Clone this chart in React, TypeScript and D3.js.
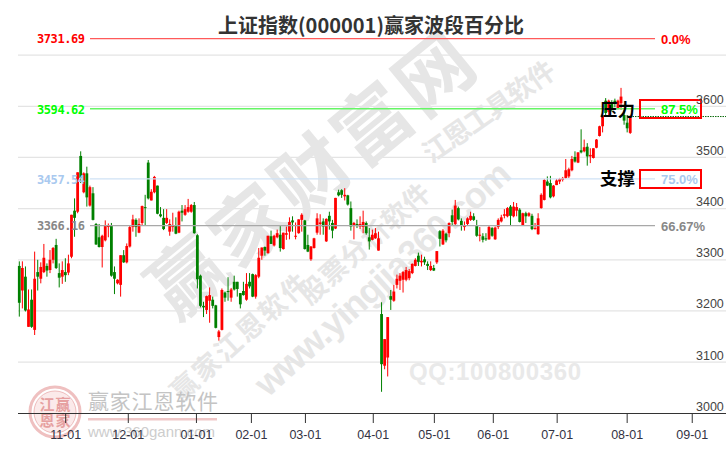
import React from "react";
import * as d3 from "d3";

const title = "上证指数(000001)赢家波段百分比";
// [open, close, high, low] split in named arrays, one value per trading day
const opens = [3288,3240,3267,3169,3222,3163,3276,3263,3276,3288,3280,3300,3329,3274,3267,3276,3275,3306,3396,3394,3503,3432,3469,3406,3430,
3370,3344,3325,3338,3364,3366,3276,3254,3251,3309,3295,3326,3364,3378,3353,3372,3403,3490,3416,3432,3445,3389,3382,3372,
3355,3364,3368,3353,3396,3388,3394,3394,3407,3348,3269,3210,3202,3220,3222,3211,3149,3163,3236,3239,3226,3257,3257,3235,3239,
3222,3257,3272,3228,3267,3308,3325,3313,3346,3328,3344,3349,3321,3349,3355,3377,3346,3352,3378,3377,3329,3301,3323,3353,
3370,3375,3336,3386,3372,3361,3432,3436,3424,3426,3401,3366,3370,3365,3364,3372,3344,3339,3342,3318,3194,3093,3109,3229,3220,
3251,3259,3261,3261,3264,3274,3288,3308,3295,3301,3292,3280,3284,3295,3356,3330,3351,3352,3387,3370,3401,3376,3364,3370,
3378,3385,3368,3347,3346,3342,3340,3362,3340,3364,3375,3386,3385,3404,3385,3396,3398,3368,3391,3386,3386,3360,3350,
3401,3417,3453,3450,3424,3446,3453,3456,3460,3463,3475,3501,3490,3514,3512,3521,3502,3499,3519,3542,3561,3611,3589,3606,3611,3596,3606,3583,3568,3548];
const closes = [3216,3284,3201,3203,3169,3263,3267,3286,3304,3279,3300,3323,3284,3265,3280,3270,3293,3388,3382,3471,3460,3469,3422,3442,3378,
3330,3325,3347,3368,3368,3269,3263,3261,3309,3295,3327,3364,3379,3364,3370,3405,3401,3420,3433,3462,3390,3385,3360,3382,
3370,3366,3351,3394,3392,3399,3403,3407,3352,3262,3210,3207,3229,3231,3210,3167,3160,3241,3226,3237,3242,3242,3243,3213,3231,
3253,3248,3228,3270,3304,3324,3318,3347,3331,3347,3352,3323,3353,3352,3374,3373,3347,3379,3388,3321,3316,3326,3342,3381,
3373,3365,3380,3375,3357,3421,3426,3427,3427,3408,3365,3372,3368,3370,3374,3352,3336,3349,3352,3342,3096,3145,3188,3222,3238,
3263,3269,3276,3280,3278,3292,3300,3296,3298,3295,3288,3288,3279,3317,3341,3357,3338,3372,3374,3406,3379,3368,3366,3381,
3386,3378,3347,3349,3339,3340,3364,3347,3363,3378,3383,3389,3401,3386,3404,3403,3374,3391,3385,3391,3360,3362,3381,
3427,3456,3445,3422,3445,3455,3458,3460,3475,3477,3497,3492,3510,3510,3520,3502,3505,3518,3535,3561,3581,3587,3611,3596,3606,3611,3619,3572,3557,3580];
const highs = [3297,3297,3287,3242,3242,3316,3300,3295,3331,3293,3319,3325,3341,3293,3297,3303,3310,3388,3420,3471,3512,3471,3482,3445,3442,
3372,3370,3349,3377,3371,3372,3287,3262,3309,3319,3332,3368,3388,3381,3381,3406,3427,3495,3438,3464,3445,3403,3399,3399,
3379,3392,3383,3396,3407,3407,3419,3409,3413,3350,3271,3218,3230,3246,3228,3212,3163,3244,3238,3266,3245,3269,3257,3235,3257,
3274,3274,3273,3272,3323,3324,3326,3347,3357,3349,3359,3366,3353,3365,3383,3385,3373,3379,3391,3378,3349,3327,3343,3391,
3389,3381,3381,3394,3378,3421,3437,3438,3440,3427,3414,3374,3379,3385,3396,3375,3362,3359,3362,3355,3217,3145,3188,3241,3251,
3271,3274,3278,3286,3282,3293,3303,3314,3310,3306,3297,3297,3290,3317,3358,3360,3353,3373,3398,3417,3404,3381,3375,3383,
3394,3391,3378,3364,3352,3352,3368,3364,3365,3381,3388,3399,3403,3407,3413,3411,3401,3392,3394,3393,3390,3372,3391,
3430,3458,3463,3464,3446,3458,3460,3462,3497,3480,3503,3512,3510,3555,3535,3528,3518,3518,3536,3562,3583,3616,3613,3612,3615,3613,3636,3593,3583,3582];
const lows = [3189,3205,3199,3169,3167,3153,3240,3254,3274,3267,3274,3293,3282,3246,3253,3257,3270,3303,3345,3391,3450,3430,3404,3404,3377,
3329,3324,3285,3336,3344,3267,3233,3252,3228,3294,3293,3324,3355,3345,3352,3368,3368,3418,3416,3430,3389,3383,3358,3370,
3347,3355,3350,3352,3375,3386,3392,3392,3351,3244,3207,3188,3194,3177,3205,3166,3142,3162,3218,3220,3218,3240,3228,3205,3230,
3220,3244,3227,3224,3264,3300,3308,3312,3331,3326,3342,3316,3320,3339,3340,3355,3340,3351,3355,3320,3315,3298,3322,3349,
3349,3349,3335,3359,3342,3360,3424,3421,3416,3406,3357,3340,3362,3360,3352,3349,3320,3338,3341,3318,3042,3086,3072,3202,3218,
3244,3241,3236,3258,3260,3272,3287,3288,3287,3290,3280,3278,3278,3292,3326,3329,3334,3344,3368,3368,3377,3357,3357,3368,
3376,3376,3345,3336,3334,3337,3339,3345,3339,3360,3373,3381,3383,3367,3383,3385,3373,3367,3372,3384,3358,3359,3349,
3400,3416,3444,3420,3422,3446,3448,3453,3458,3460,3473,3490,3489,3508,3510,3484,3489,3498,3518,3541,3549,3583,3580,3590,3598,3594,3593,3564,3549,3546];

const xTickLabels = ["11-01","12-01","01-01","02-01","03-01","04-01","05-01","06-01","07-01","08-01","09-01"];
const xTickSlots = [15.1,35.5,57.7,75.6,93.2,115.3,135.2,154.4,175.2,198,219.2];
const yTicks = [3000,3100,3200,3300,3400,3500,3600];
const gridValues = [3100,3200,3300,3400,3500,3600,3700];
const levelValues = [3731.69,3594.62,3457.54,3366.16];
const levelTexts = ["3731.69","3594.62","3457.54","3366.16"];
const levelPercents = ["0.0%","87.5%","75.0%","66.67%"];
const levelColors = ["#ff0000","#00ff00","#a9c9ef","#888888"];
const levelLineColors = ["#ff5a5a","#66f566","#cfe2f5","#a8a8a8"];

const x = d3.scaleLinear().domain([0, 100]).range([19.3, 326.3]);
const y = d3.scaleLinear().domain([3000, 3600]).range([413.3, 106.3]);
const cjk = "'Noto Sans CJK SC', sans-serif";
const latin = "'Liberation Sans', Arial, sans-serif";
const wm = "#e6e6e6";

export default function App() {
  const last = closes[closes.length - 1];
  return (
    <svg width={726} height={450} style={{ position: "absolute", left: 0, top: 0, background: "#fff" }}>
      {gridValues.map((v) => (
        <line key={v} x1={18} x2={726} y1={y(v)} y2={y(v)} stroke="#e4e4e4" strokeWidth={1.2} />
      ))}
      {/* watermarks */}
      <g fontFamily={cjk} fontWeight={700} fill={wm}>
        <text transform="translate(176,322) rotate(-39.5)" fontSize={76} textLength={395} lengthAdjust="spacing">赢家财富网</text>
        <text transform="translate(181,403) rotate(-42)" fontSize={27} textLength={175} lengthAdjust="spacing">赢家江恩软件</text>
        <text transform="translate(310,306) rotate(-42)" fontSize={27} textLength={165} lengthAdjust="spacing">股票分析软件</text>
        <text transform="translate(431,164) rotate(-35)" fontSize={27} textLength={155} lengthAdjust="spacing">江恩工具软件</text>
        <text transform="translate(268,398) rotate(-42)" fontSize={36} fontFamily={latin} textLength={330} lengthAdjust="spacing">www.yingjia360.com</text>
        <text x={409} y={380} fontSize={24} fontFamily={latin} fill="#e9e9e9" textLength={172}>QQ:100800360</text>
      </g>
      {/* logo */}
      <g>
        <circle cx={55} cy={412} r={25} fill="none" stroke="#efc0c0" strokeWidth={3} />
        <circle cx={55} cy={412} r={21} fill="#fbeaea" stroke="#eebcbc" strokeWidth={1} />
        <text x={47} y={410} fontSize={15} fontFamily={cjk} fontWeight={700} fill="#e6a0a0" textAnchor="middle">江</text>
        <text x={63} y={410} fontSize={15} fontFamily={cjk} fontWeight={700} fill="#e6a0a0" textAnchor="middle">赢</text>
        <text x={47} y={426} fontSize={15} fontFamily={cjk} fontWeight={700} fill="#e6a0a0" textAnchor="middle">恩</text>
        <text x={63} y={426} fontSize={15} fontFamily={cjk} fontWeight={700} fill="#e6a0a0" textAnchor="middle">家</text>
        <text x={88} y={409} fontSize={21} fontFamily={cjk} fill="#c4c4c4" textLength={130}>赢家江恩软件</text>
        <rect x={88} y={418} width={129} height={2.5} fill="#f0c8c8" />
        <text x={88} y={437} fontSize={15} fontFamily={latin} fill="#cdcdcd" textLength={127}>www.360gann.com</text>
      </g>
      {/* candles */}
      {opens.map((o, i) => {
        const c = closes[i];
        const color = c >= o ? "#ff0000" : "#008000";
        const top = y(Math.max(o, c));
        const h = Math.max(1, Math.abs(y(o) - y(c)));
        return (
          <g key={i}>
            <line x1={x(i)} x2={x(i)} y1={y(highs[i])} y2={y(lows[i])} stroke={color} strokeWidth={1} />
            <rect x={x(i) - 1.4} y={top} width={2.8} height={h} fill={color} />
          </g>
        );
      })}
      {/* level lines */}
      {levelValues.map((v, i) => (
        <g key={v}>
          <line x1={90} x2={655} y1={y(v) - 0.3} y2={y(v) - 0.3} stroke={levelLineColors[i]} strokeWidth={1.3} />
          <text x={37} y={y(v) + 4.5} fontSize={12} fontWeight={700} fontFamily="'DejaVu Sans Mono', monospace" fill={levelColors[i]} textLength={48}>{levelTexts[i]}</text>
          <text x={661} y={y(v) + 5} fontSize={13} fontWeight={700} fontFamily={latin} fill={levelColors[i]}>{levelPercents[i]}</text>
        </g>
      ))}
      {/* last price */}
      <line x1={630} x2={726} y1={y(last)} y2={y(last)} stroke="#0a6a0a" strokeWidth={1} strokeDasharray="1.5 1" />
      {/* pressure and support */}
      <rect x={640} y={100} width={61} height={18} fill="none" stroke="#ff0000" strokeWidth={2} />
      <rect x={640} y={170} width={61} height={18} fill="none" stroke="#ff0000" strokeWidth={2} />
      <text x={600} y={116} fontSize={17.5} fontWeight={700} fontFamily={cjk} fill="#000">压力</text>
      <text x={600} y={185} fontSize={17.5} fontWeight={700} fontFamily={cjk} fill="#000">支撑</text>
      {/* axes */}
      <line x1={18} x2={726} y1={413.5} y2={413.5} stroke="#333" strokeWidth={1} />
      {xTickLabels.map((t, i) => (
        <g key={t}>
          <line x1={x(xTickSlots[i])} x2={x(xTickSlots[i])} y1={413.5} y2={423} stroke="#333" strokeWidth={1} />
          <text x={x(xTickSlots[i])} y={439} fontSize={12.5} fontFamily={latin} fill="#334" textAnchor="middle">{t}</text>
        </g>
      ))}
      {yTicks.map((v) => (
        <text key={v} x={696} y={y(v) - 2.5} fontSize={12.5} fontFamily={latin} fill="#444">{v}</text>
      ))}
      <text x={371} y={33} fontSize={20} fontWeight={700} fontFamily={cjk} fill="#333" textAnchor="middle">{title}</text>
    </svg>
  );
}
